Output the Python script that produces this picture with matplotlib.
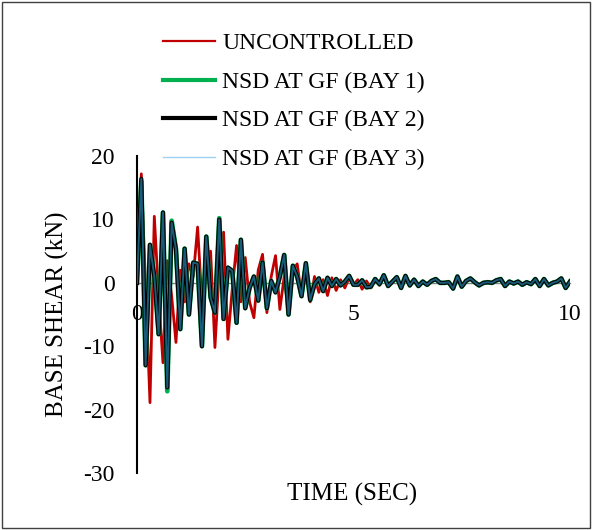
import numpy as np
import matplotlib
matplotlib.use("Agg")
import matplotlib.pyplot as plt
from matplotlib.lines import Line2D
from matplotlib.patches import Rectangle

plt.rcParams['font.family'] = ['Liberation Serif', 'DejaVu Serif']
plt.rcParams['axes.unicode_minus'] = False

# time axis, 0.1 s steps
time_sec = np.round(np.arange(0, 10.01, 0.1), 1)

# base shear (kN)
uncontrolled = [
    0.0, 17.2, -1.0, -18.9, 10.5, -2.0, -12.6, 3.5, -2.0, -9.4,
    2.0, -3.0, 3.0, 1.0, 8.8, -3.0, 3.5, 5.0, -10.2, 2.0,
    8.0, -8.9, -1.0, 5.9, -3.0, 4.0, -3.0, -5.5, 2.0, 4.5,
    -4.7, 1.0, 4.3, -4.2, 1.0, -5.0, 2.0, 3.0, -2.0, 2.5,
    -3.0, 1.0, -1.5, 0.5, -2.0, 0.8, -1.2, 0.5, -0.8, 0.8,
    -0.3, 0.5, -1.0, 0.3, -0.8, 0.7, -0.4, 1.0, -0.6, 0.3,
    0.8, -0.9, 1.0, -0.5, 0.6, -0.6, 0.3, -0.4, 0.4, 0.5,
    -0.1, 0.1, 0.0, -0.8, 0.9, -0.5, 0.4, 0.6, 0.0, -0.5,
    0.1, 0.0, 0.1, 0.3, 0.7, -0.6, 0.3, -0.2, 0.3, -0.4,
    0.2, -0.3, 0.5, -0.6, 0.5, -0.3, 0.1, 0.1, 0.6, -0.9,
    0.1,
]

bay2 = [
    0.0, 16.4, -13.0, 6.0, 1.0, -8.1, 11.1, -16.5, 9.5, 5.3,
    -7.3, 5.4, -5.0, 3.2, 3.0, -10.0, 7.3, -2.3, -4.7, 10.0,
    -5.7, 2.4, 1.9, -6.3, 6.8, -4.0, -0.8, 1.0, -2.8, 3.2,
    -4.0, 0.3, -1.5, 1.0, 4.4, -5.0, 2.7, 1.0, -2.1, 3.1,
    -2.7, -0.2, 0.7, -1.3, 0.8, -0.5, 0.6, -0.4, 0.2, 1.1,
    -0.3, -0.3, 0.4, -0.7, -0.6, 0.6, -0.2, 1.2, -0.5, 0.2,
    0.9, -0.8, 1.1, -0.4, 0.5, -0.5, 0.2, -0.3, 0.3, 0.6,
    0.0, 0.0, 0.1, -0.9, 1.0, -0.6, 0.3, 0.7, 0.1, -0.4,
    0.0, 0.1, 0.0, 0.4, 0.6, -0.5, 0.2, -0.1, 0.2, -0.3,
    0.1, -0.2, 0.6, -0.5, 0.6, -0.4, 0.0, 0.2, 0.7, -0.8,
    0.2,
]

bay1 = list(bay2)
bay1[1] = 16.0
bay1[7] = -17.1
bay1[8] = 9.8
bay1[19] = 10.2

bay3 = list(bay2)

fig = plt.figure(figsize=(5.92, 5.30), dpi=100)
ax = fig.add_axes([0.2314, 0.1075, 0.7314, 0.598])

ax.plot(time_sec, uncontrolled, color='#C00000', lw=2.0, zorder=2)
ax.plot(time_sec, bay1, color='#00B050', lw=3.4, zorder=3)
ax.plot(time_sec, bay2, color='black', lw=3.0, zorder=4)
ax.plot(time_sec, bay3, color='#1B5B7A', lw=1.4, zorder=5)

ax.set_xlim(0, 10)
ax.set_ylim(-30, 20)
ax.set_xticks([0, 5, 10])
ax.set_yticks([-30, -20, -10, 0, 10, 20])

for s in ['top', 'right']:
    ax.spines[s].set_visible(False)
ax.spines['bottom'].set_position(('data', 0))
ax.spines['bottom'].set_color('#7f7f7f')
ax.spines['bottom'].set_linewidth(1.0)
ax.spines['bottom'].set_zorder(1)
ax.spines['left'].set_linewidth(1.5)

ax.tick_params(axis='both', length=0, labelsize=17)
ax.tick_params(axis='y', pad=16)
ax.tick_params(axis='x', pad=15)

ax.set_ylabel('BASE SHEAR (kN)', fontsize=18, labelpad=10)
fig.text(0.595, 0.068, 'TIME (SEC)', fontsize=18, ha='center', va='center')

handles = [
    Line2D([], [], color='#C00000', lw=1.6),
    Line2D([], [], color='#00B050', lw=3.0),
    Line2D([], [], color='black', lw=3.0),
    Line2D([], [], color='#9DD3F0', lw=1.0),
]
labels = ['UNCONTROLLED', 'NSD AT GF (BAY 1)', 'NSD AT GF (BAY 2)', 'NSD AT GF (BAY 3)']
fig.legend(handles, labels, loc='upper left', bbox_to_anchor=(0.24, 0.978),
           frameon=False, fontsize=17, handlelength=2.2, handletextpad=0.3,
           labelspacing=0.72)

fig.add_artist(Rectangle((0.003, 0.003), 0.994, 0.994, transform=fig.transFigure,
                         fill=False, edgecolor='#404040', lw=1.0))

fig.savefig('out.png', dpi=100)
